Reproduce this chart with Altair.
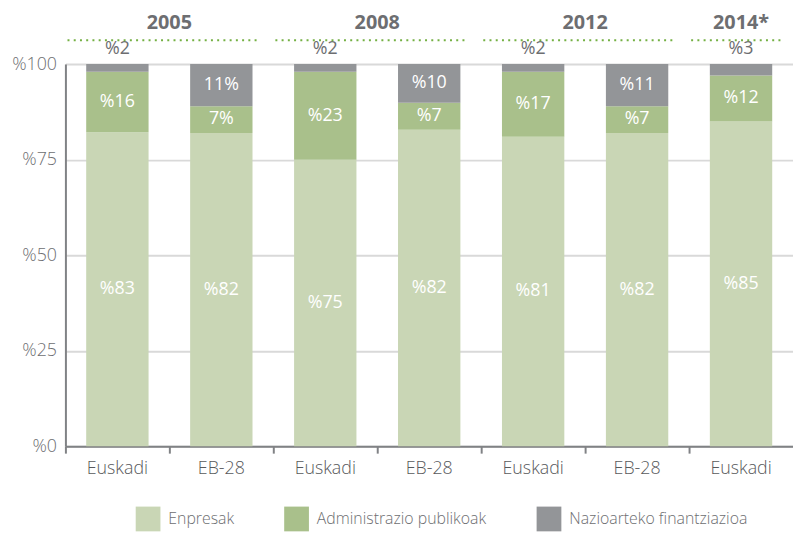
import altair as alt
import pandas as pd

# ---- data ----
years = ["2005", "2005", "2008", "2008", "2012", "2012", "2014*"]
regions = ["Euskadi", "EB-28", "Euskadi", "EB-28", "Euskadi", "EB-28", "Euskadi"]
series_names = ["Enpresak", "Administrazio publikoak", "Nazioarteko finantziazioa"]
enpresak = [83, 82, 75, 82, 81, 82, 85]
administrazioa = [16, 7, 23, 7, 17, 7, 12]
nazioartekoa = [2, 11, 2, 10, 2, 11, 3]
enpresak_lbl = ["%83", "%82", "%75", "%82", "%81", "%82", "%85"]
administrazioa_lbl = ["%16", "7%", "%23", "%7", "%17", "%7", "%12"]
nazioartekoa_lbl = ["%2", "11%", "%2", "%10", "%2", "%11", "%3"]
colors = ["#c9d6b5", "#a9c08b", "#939598"]

FONT = "Open Sans"

# ---- build tables ----
keys = [f"{i}|{r}" for i, r in enumerate(regions)]
rows = []
for i, key in enumerate(keys):
    vals = [enpresak[i], administrazioa[i], nazioartekoa[i]]
    lbls = [enpresak_lbl[i], administrazioa_lbl[i], nazioartekoa_lbl[i]]
    total = sum(vals)
    cum = 0.0
    for j, (s, v, l) in enumerate(zip(series_names, vals, lbls)):
        share = v / total * 100
        rows.append(dict(key=key, series=s, order=j, y0=cum, y1=cum + share,
                         mid=cum + share / 2, label=l, inside=bool(share >= 5)))
        cum += share
df = pd.DataFrame(rows)

hdr = []
start = 0
for i in range(1, len(years) + 1):
    if i == len(years) or years[i] != years[start]:
        hdr.append(dict(year=years[start], start=start, end=i,
                        center=(start + i) / 2, x0=start + 0.02, x1=min(i - 0.12, len(years))))
        start = i
hdf = pd.DataFrame(hdr)

xscale = alt.Scale(domain=keys, paddingInner=0, paddingOuter=0)
qscale = alt.Scale(domain=[0, len(years)], nice=False, zero=False)
yscale = alt.Scale(domain=[0, 100], nice=False)

x_axis = alt.Axis(title=None, labelExpr="split(datum.label, '|')[1]", labelAngle=0,
                  bandPosition=0, tickSize=7, tickWidth=2, tickColor="#808285",
                  domainColor="#808285", domainWidth=2, labelFont=FONT, labelFontSize=18,
                  labelFontWeight=300, labelColor="#58595b", labelPadding=7, grid=False)
y_axis = alt.Axis(title=None, values=[0, 25, 50, 75, 100], labelExpr="'%' + datum.value",
                  tickSize=0, grid=True, gridColor="#d9d9d9", gridWidth=2,
                  domainColor="#808285", domainWidth=2, labelFont=FONT, labelFontSize=18,
                  labelFontWeight=300, labelColor="#6d6e71", labelPadding=9)

base = alt.Chart(df)

bars = base.mark_bar(width=alt.RelativeBandSize(0.6)).encode(
    x=alt.X("key:N", sort=keys, scale=xscale, axis=x_axis),
    y=alt.Y("y1:Q", scale=yscale, axis=y_axis),
    y2="y0:Q",
    color=alt.Color("series:N", scale=alt.Scale(domain=series_names, range=colors),
                    legend=alt.Legend(title=None, orient="none", legendX=71, legendY=447,
                                      direction="horizontal", symbolType="square",
                                      symbolSize=625, symbolStrokeWidth=0, symbolOpacity=1,
                                      labelFont=FONT, labelFontSize=16, labelFontWeight=300,
                                      labelColor="#6d6e71", labelLimit=400, labelOffset=8,
                                      columnPadding=50, padding=0)),
)

inside = base.transform_filter("datum.inside").mark_text(
    color="white", font=FONT, fontSize=18, fontWeight=400
).encode(
    x=alt.X("key:N", sort=keys, scale=xscale, axis=None),
    y=alt.Y("mid:Q", scale=yscale),
    text="label:N",
)

outside = base.transform_filter("!datum.inside").mark_text(
    color="#6d6e71", font=FONT, fontSize=18, fontWeight=500, dy=-15
).encode(
    x=alt.X("key:N", sort=keys, scale=xscale, axis=None),
    y=alt.Y("y1:Q", scale=yscale),
    text="label:N",
)

hbase = alt.Chart(hdf)
htext = hbase.mark_text(color="#6d6e71", font=FONT, fontSize=20, fontWeight="bold").encode(
    x=alt.X("center:Q", scale=qscale, axis=None),
    y=alt.value(-41),
    text="year:N",
)
hrule = hbase.mark_rule(color="#74b043", strokeWidth=2, strokeDash=[2, 4.3]).encode(
    x=alt.X("x0:Q", scale=qscale, axis=None),
    x2="x1:Q",
    y=alt.value(-24),
)

chart = alt.layer(bars, inside, outside, htext, hrule).resolve_scale(
    x="independent"
).properties(
    width=735, height=386,
    padding={"left": 58, "top": 54, "right": 0, "bottom": 86},
    autosize=alt.AutoSizeParams(type="none"),
).configure_view(stroke=None).configure(background="white")

chart.save("out.html", embed_options={"renderer": "svg", "actions": False})
